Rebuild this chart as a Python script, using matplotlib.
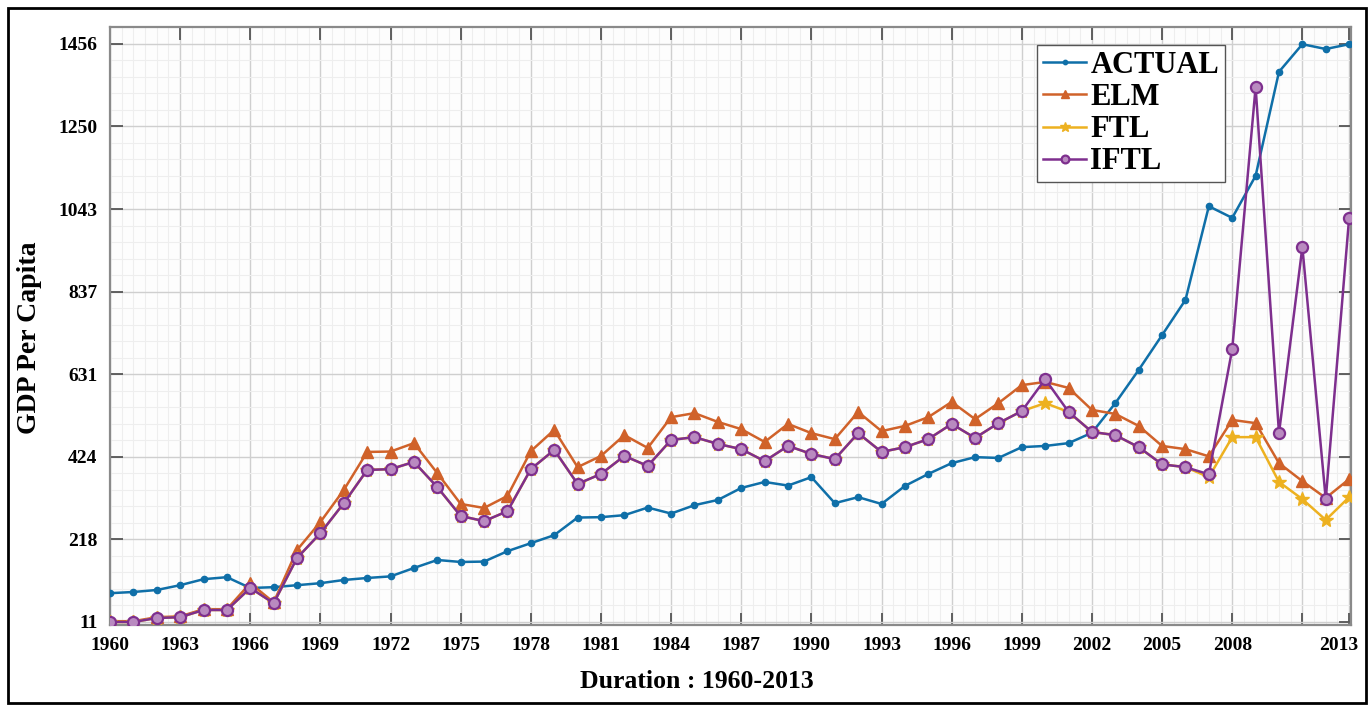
import matplotlib
matplotlib.use("Agg")
import matplotlib.pyplot as plt
import matplotlib.transforms as mtransforms
from matplotlib.ticker import MultipleLocator, FixedLocator
from matplotlib.patches import Rectangle

years = list(range(1960, 2014))

actual = [83, 86, 91, 103, 118, 123, 96, 98, 103, 108, 116, 121, 125, 146, 166, 161,
          162, 188, 208, 228, 272, 273, 278, 297, 282, 303, 316, 346, 361, 352, 373,
          308, 323, 306, 351, 381, 408, 423, 421, 448, 451, 458, 484, 558, 641, 728,
          816, 1050, 1021, 1126, 1386, 1455, 1443, 1455]

elm = [13, 13, 23, 25, 43, 43, 108, 60, 191, 261, 341, 436, 437, 458, 383, 306,
       296, 326, 438, 491, 398, 426, 478, 446, 523, 533, 511, 493, 461, 506, 483,
       468, 536, 488, 501, 523, 561, 518, 558, 603, 611, 596, 541, 531, 501, 451,
       443, 425, 516, 508, 408, 363, 321, 368]

ftl = [11, 11, 21, 23, 41, 41, 96, 58, 171, 233, 308, 391, 393, 411, 348, 276,
       263, 288, 393, 441, 356, 381, 426, 401, 466, 473, 456, 443, 413, 451, 431,
       418, 483, 436, 448, 468, 506, 471, 508, 538, 558, 536, 486, 478, 448, 405,
       398, 373, 473, 473, 361, 318, 266, 323]

iftl = [11, 11, 21, 23, 41, 41, 96, 58, 171, 233, 308, 391, 393, 411, 348, 276,
        263, 288, 393, 441, 356, 381, 426, 401, 466, 473, 456, 443, 413, 451, 431,
        418, 483, 436, 448, 468, 506, 471, 508, 538, 618, 536, 486, 478, 448, 405,
        398, 380, 693, 1348, 483, 948, 318, 1021]

ytick_vals = [11, 217.43, 423.86, 630.29, 836.71, 1043.14, 1249.57, 1456]
ytick_labels = ["11", "218", "424", "631", "837", "1043", "1250", "1456"]
xtick_vals = list(range(1960, 2012, 3)) + [2013]
xtick_labels = [str(v) for v in range(1960, 2012, 3)]
xtick_labels[-1] = ""
xtick_labels = xtick_labels + ["2013"]

serif = ["Liberation Serif", "DejaVu Serif"]

fig = plt.figure(figsize=(13.72, 7.05), dpi=100)
ax = fig.add_axes([110/1372, 1-625/705, (1351-110)/1372, (625-27)/705])
ax.set_facecolor("#fdfdfd")

c_act = "#0f6fa8"
c_elm = "#d0622a"
c_ftl = "#edb120"
c_ift = "#7e2f8e"

ax.plot(years, actual, color=c_act, lw=1.8, marker=".", ms=9, label="ACTUAL", zorder=3)
ax.plot(years, elm, color=c_elm, lw=1.8, marker="^", ms=8, label="ELM", zorder=4)
ax.plot(years, ftl, color=c_ftl, lw=1.8, marker="*", ms=10, label="FTL", zorder=5)
ax.plot(years, iftl, color=c_ift, lw=1.8, marker="o", ms=8, mfc="#b98ac0",
        mec=c_ift, mew=1.6, label="IFTL", zorder=6)

ax.set_xlim(1960, 2013.08)
ax.set_ylim(3.5, 1498)

ax.xaxis.set_major_locator(FixedLocator(xtick_vals))
ax.set_xticklabels(xtick_labels)
ax.xaxis.set_minor_locator(MultipleLocator(0.5))
ax.yaxis.set_major_locator(FixedLocator(ytick_vals))
ax.set_yticklabels(ytick_labels)
ax.yaxis.set_minor_locator(FixedLocator([11 + i*206.43/5 for i in range(0, 36)]))

ax.grid(which="major", color="#cfcfcf", lw=1.0)
ax.grid(which="minor", color="#eeeeee", lw=0.8)
ax.set_axisbelow(True)

ax.tick_params(which="major", direction="in", length=9, width=1.3, color="#555555",
               top=True, right=True, pad=9)
ax.tick_params(which="minor", length=0)
for lab in ax.get_xticklabels() + ax.get_yticklabels():
    lab.set_fontfamily(serif)
    lab.set_fontweight("bold")
    lab.set_fontsize(14)
xl = ax.get_xticklabels()
xl[-1].set_transform(xl[-1].get_transform() +
                     mtransforms.ScaledTranslation(-10/100, 0, fig.dpi_scale_trans))
for s in ax.spines.values():
    s.set_color("#8a8a8a")
    s.set_linewidth(1.6)

fig.text(697/1372, 1-682/705, "Duration : 1960-2013", ha="center", va="center",
         family=serif, fontweight="bold", fontsize=18.5)
fig.text(30/1372, 1-338/705, "GDP Per Capita", ha="center", va="center", rotation=90,
         family=serif, fontweight="bold", fontsize=20)

leg = ax.legend(loc="upper left", bbox_to_anchor=((1037-110)/1241, 1-(45-27)/598),
                prop={"family": serif, "weight": "bold", "size": 22},
                frameon=True, fancybox=False, handlelength=1.4, handletextpad=0.15,
                labelspacing=0.1, borderpad=0.2, borderaxespad=0, markerscale=0.7)
leg.get_frame().set_edgecolor("#555555")
leg.get_frame().set_linewidth(1.0)
leg.get_frame().set_facecolor("white")
leg.get_frame().set_alpha(1)

fig.patches.append(Rectangle((8/1372, 2/705), (1366-8)/1372, (697-2)/705,
                             transform=fig.transFigure, fill=False, ec="black", lw=2))

fig.savefig("out.png", dpi=100)
